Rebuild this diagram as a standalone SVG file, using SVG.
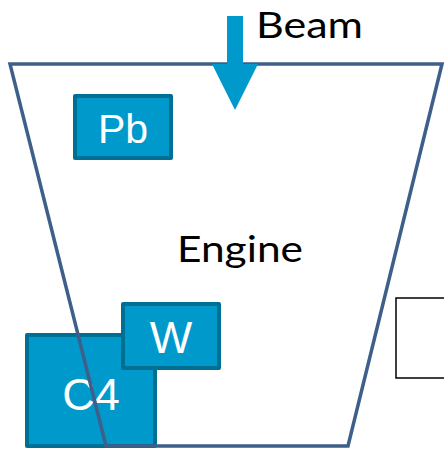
<svg xmlns="http://www.w3.org/2000/svg" width="444" height="449" viewBox="0 0 444 449">
<style>
.box{fill:#0099CC;stroke:#006F94;stroke-width:4;stroke-linejoin:round}
.bt{font-family:"Liberation Sans",Arial,sans-serif;fill:#FFFFFF;text-anchor:middle}
.lbl{font-family:Lato,"Open Sans","Liberation Sans",sans-serif;fill:#000000;font-size:37px}
</style>
<rect width="444" height="449" fill="#FFFFFF"/>
<g id="C4">
<rect class="box" x="27" y="335" width="128" height="111"/>
<text class="bt" x="91" y="410" font-size="45">C4</text>
</g>
<g id="engine">
<polygon points="10,64 442,64 348,446 106,446" fill="none" stroke="#3E5F8A" stroke-width="3.5" stroke-linejoin="miter"/>
<text class="lbl" x="177" y="262" textLength="126" lengthAdjust="spacingAndGlyphs">Engine</text>
</g>
<g id="Pb">
<rect class="box" x="75" y="96" width="96" height="62"/>
<text class="bt" x="123" y="143" font-size="41">Pb</text>
</g>
<g id="W">
<rect class="box" x="123" y="304" width="96" height="64"/>
<text class="bt" x="171" y="353" font-size="45">W</text>
</g>
<g id="detector">
<rect x="396" y="298" width="52" height="80" fill="#FFFFFF" stroke="#000000" stroke-width="1.5"/>
</g>
<g id="connectors">
<polygon points="227,16 243,16 243,64 258,64 235,110 212,64 227,64" fill="#0099CC"/>
<text class="lbl" x="256" y="38" textLength="107" lengthAdjust="spacingAndGlyphs">Beam</text>
</g>
</svg>
